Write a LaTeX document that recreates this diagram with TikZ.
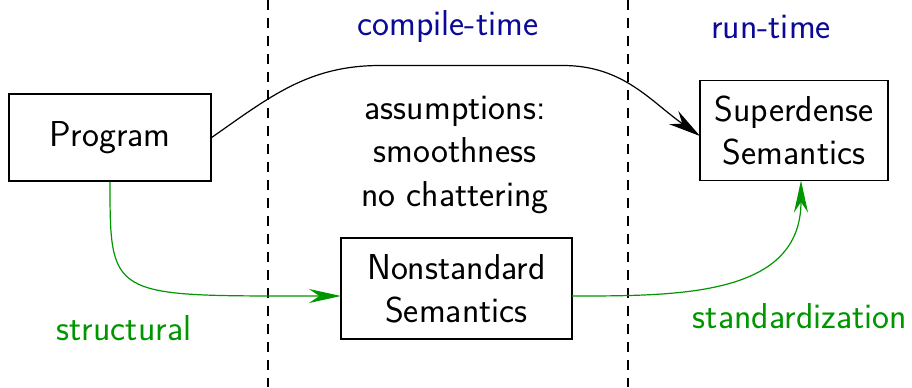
\documentclass[tikz,border=0pt]{standalone}
\usetikzlibrary{arrows.meta}
\definecolor{tblue}{RGB}{10,10,150}
\definecolor{tgreen}{RGB}{0,150,0}
\begin{document}
\begin{tikzpicture}[x=0.5pt,y=-0.5pt,
  font=\sffamily\fontsize{18}{21.6}\selectfont,
  box/.style={draw, line width=0.65pt, inner sep=0pt, align=center},
  sepline/.style={dash pattern=on 5pt off 4pt, line width=0.6pt},
  blk/.style={line width=0.6pt, -{Stealth[length=16pt,width=8pt]}},
  grn/.style={draw=tgreen, line width=0.6pt, -{Stealth[length=16pt,width=7pt]}},
  lblue/.style={text=tblue, inner sep=0pt},
  lgreen/.style={text=tgreen, inner sep=0pt}]
\useasboundingbox (0,0) rectangle (912,387);
% separators
\coordinate (d1t) at (268,0); \coordinate (d1b) at (268,387);
\coordinate (d2t) at (628,0); \coordinate (d2b) at (628,387);
\draw[sepline] (d1t) -- (d1b);
\draw[sepline] (d2t) -- (d2b);
% nodes
\node[box, minimum width=101pt, minimum height=43.5pt] (P) at (110,137.5) {Program};
\node[box, minimum width=94pt, minimum height=50pt] (S) at (794,130.5) {Superdense\\Semantics};
\node[box, minimum width=115.5pt, minimum height=50.5pt] (N) at (456.5,288.5) {Nonstandard\\Semantics};
\node[lblue] (ct) at (448,27) {compile-time};
\node[lblue] (rt) at (771,27) {run-time};
\node[inner sep=0pt, align=center] (as) at (455,155) {assumptions:\\smoothness\\no chattering};
\node[lgreen] (st) at (124,328) {structural};
\node[lgreen] (sd) at (800,316) {standardization};
% connector points
\coordinate (ta) at (380,65.5);
\coordinate (tb) at (563,65.5);
\coordinate (sin) at (700,136);
\coordinate (nin) at (341,296);
\coordinate (nout) at (572,296);
\coordinate (sbot) at (801,180.5);
% connectors
\draw[blk] (P.east) to[out=35,in=180] (ta) -- (tb) to[out=0,in=145] (sin);
\draw[grn] (P.south) .. controls (110,296) and (110,296) .. (300,296) -- (nin);
\draw[grn] (nout) .. controls (680,296) and (801,296) .. (sbot);
\end{tikzpicture}
\end{document}
